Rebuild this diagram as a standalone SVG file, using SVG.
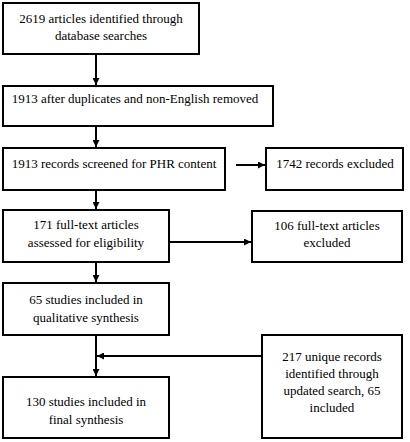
<svg xmlns="http://www.w3.org/2000/svg" width="410" height="442" viewBox="0 0 410 442">
<defs>
<marker id="ah" viewBox="0 0 10 10" refX="10" refY="5" markerWidth="7" markerHeight="7" markerUnits="userSpaceOnUse" orient="auto"><path d="M0,0 L10,5 L0,10 z" fill="#000"/></marker>
<style>
.box{fill:#fff;stroke:#000;stroke-width:2}
text{font-family:"Liberation Serif","Times New Roman",serif;font-size:13px;fill:#000;text-anchor:middle}
.c{stroke:#000;stroke-width:2;fill:none}
</style>
</defs>
<rect width="410" height="442" fill="#fff"/>
<g id="n1"><rect class="box" x="3" y="3" width="196" height="51"/><text x="101" y="23">2619 articles identified through</text><text x="101" y="40">database searches</text></g>
<g id="n2"><rect class="box" x="3" y="86" width="270" height="40"/><text x="135" y="103">1913 after duplicates and non-English removed</text></g>
<g id="n3"><rect class="box" x="3" y="148" width="222" height="42"/><text x="114" y="168">1913 records screened for PHR content</text></g>
<g id="n4"><rect class="box" x="266" y="148" width="137" height="42"/><text x="335" y="168">1742 records excluded</text></g>
<g id="n5"><rect class="box" x="3" y="210" width="166" height="52"/><text x="86" y="229">171 full-text articles</text><text x="86" y="247">assessed for eligibility</text></g>
<g id="n6"><rect class="box" x="252" y="211" width="150" height="51"/><text x="327" y="230">106 full-text articles</text><text x="327" y="247">excluded</text></g>
<g id="n7"><rect class="box" x="3" y="283" width="166" height="52"/><text x="86" y="304">65 studies included in</text><text x="86" y="322">qualitative synthesis</text></g>
<g id="n8"><rect class="box" x="3" y="377" width="166" height="61"/><text x="86" y="406">130 studies included in</text><text x="86" y="424">final synthesis</text></g>
<g id="n9"><rect class="box" x="262" y="335" width="140" height="103"/><text x="332" y="361">217 unique records</text><text x="332" y="378">identified through</text><text x="332" y="395">updated search, 65</text><text x="332" y="412">included</text></g>
<g id="connectors">
<line class="c" x1="96" y1="54" x2="96" y2="85" marker-end="url(#ah)"/>
<line class="c" x1="96" y1="126" x2="96" y2="147" marker-end="url(#ah)"/>
<line class="c" x1="236" y1="165" x2="265" y2="165" marker-end="url(#ah)"/>
<line class="c" x1="96" y1="190" x2="96" y2="209" marker-end="url(#ah)"/>
<line class="c" x1="169" y1="242" x2="251" y2="242" marker-end="url(#ah)"/>
<line class="c" x1="96" y1="262" x2="96" y2="282" marker-end="url(#ah)"/>
<line class="c" x1="96" y1="335" x2="96" y2="376" marker-end="url(#ah)"/>
<line class="c" x1="262" y1="356" x2="97" y2="356" marker-end="url(#ah)"/>
</g>
</svg>
